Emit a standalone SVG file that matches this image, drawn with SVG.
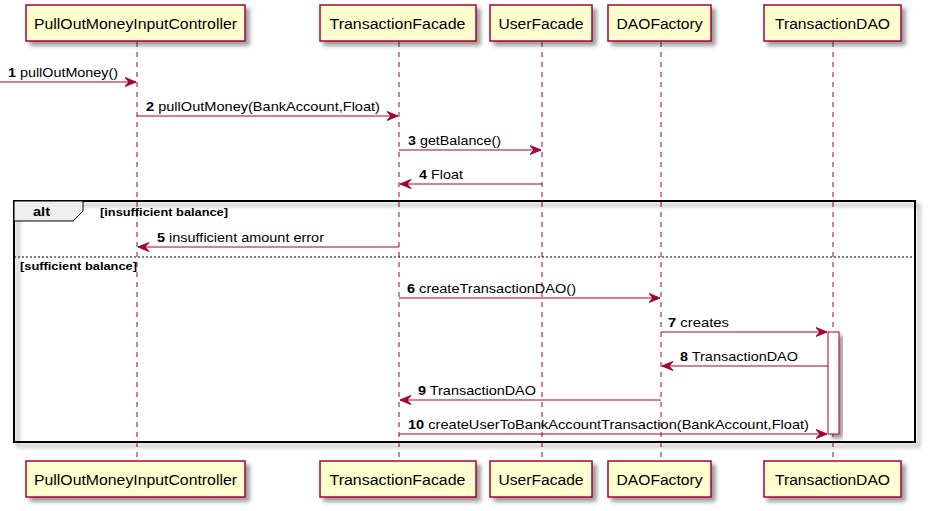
<svg xmlns="http://www.w3.org/2000/svg" width="929" height="511" viewBox="0 0 929 511">
<style>
.box{fill:#FEFECE;stroke:#A80036;stroke-width:1.5;filter:url(#sh)}
.pt{font-family:"Liberation Sans",Arial,sans-serif;font-size:14px;fill:#000;text-anchor:middle}
.life{stroke:#A80036;stroke-width:1;stroke-dasharray:5,5}
.msg{stroke:#A80036;stroke-width:1;fill:none}
.mt{font-family:"Liberation Sans",Arial,sans-serif;font-size:13px;fill:#000}
.n{font-weight:bold}
.head{fill:#A80036;stroke:#A80036;stroke-width:1}
.fr{font-family:"Liberation Sans",Arial,sans-serif;font-size:11px;font-weight:bold;fill:#000}
</style>
<defs>
<filter id="sh" x="-20%" y="-20%" width="150%" height="160%">
<feGaussianBlur in="SourceAlpha" stdDeviation="2"/>
<feOffset dx="4" dy="4" result="b"/>
<feComponentTransfer><feFuncA type="linear" slope="0.4"/></feComponentTransfer>
<feMerge><feMergeNode/><feMergeNode in="SourceGraphic"/></feMerge>
</filter>
<marker id="ar" markerWidth="14" markerHeight="12" refX="11.5" refY="5" orient="auto" markerUnits="userSpaceOnUse">
<polygon points="0.5,0.5 11.5,5 0.5,9.5 4.5,5" class="head"/>
</marker>
</defs>

<g id="lifelines">
<line class="life" x1="137" y1="42" x2="137" y2="461"/>
<line class="life" x1="399" y1="42" x2="399" y2="461"/>
<line class="life" x1="542" y1="42" x2="542" y2="461"/>
<line class="life" x1="661" y1="42" x2="661" y2="461"/>
<line class="life" x1="833" y1="42" x2="833" y2="461"/>
</g>

<g id="frame-alt">
<rect x="14" y="201" width="901" height="241" fill="none" stroke="#000" stroke-width="2" filter="url(#sh)"/>
<polygon points="14,201 83,201 83,211 73,221 14,221" fill="#EEEEEE" stroke="#000" stroke-width="1"/>
<text x="33" y="216" class="mt n" textLength="17" lengthAdjust="spacingAndGlyphs">alt</text>
<text x="100" y="216" class="fr" textLength="128" lengthAdjust="spacingAndGlyphs">[insufficient balance]</text>
<line x1="14" y1="257" x2="915" y2="257" stroke="#000" stroke-width="1" stroke-dasharray="2,2"/>
<text x="20" y="270" class="fr" textLength="117" lengthAdjust="spacingAndGlyphs">[sufficient balance]</text>
</g>

<g id="p-controller">
<rect class="box" x="26" y="5" width="219" height="36"/>
<text class="pt" x="135.5" y="29" textLength="203" lengthAdjust="spacingAndGlyphs">PullOutMoneyInputController</text>
<rect class="box" x="26" y="461" width="219" height="36"/>
<text class="pt" x="135.5" y="485" textLength="203" lengthAdjust="spacingAndGlyphs">PullOutMoneyInputController</text>
</g>
<g id="p-transactionfacade">
<rect class="box" x="320" y="5" width="156" height="36"/>
<text class="pt" x="397.5" y="29" textLength="136" lengthAdjust="spacingAndGlyphs">TransactionFacade</text>
<rect class="box" x="320" y="461" width="156" height="36"/>
<text class="pt" x="397.5" y="485" textLength="136" lengthAdjust="spacingAndGlyphs">TransactionFacade</text>
</g>
<g id="p-userfacade">
<rect class="box" x="490" y="5" width="102" height="36"/>
<text class="pt" x="541" y="29" textLength="85" lengthAdjust="spacingAndGlyphs">UserFacade</text>
<rect class="box" x="490" y="461" width="102" height="36"/>
<text class="pt" x="541" y="485" textLength="85" lengthAdjust="spacingAndGlyphs">UserFacade</text>
</g>
<g id="p-daofactory">
<rect class="box" x="608" y="5" width="103" height="36"/>
<text class="pt" x="659.5" y="29" textLength="86" lengthAdjust="spacingAndGlyphs">DAOFactory</text>
<rect class="box" x="608" y="461" width="103" height="36"/>
<text class="pt" x="659.5" y="485" textLength="86" lengthAdjust="spacingAndGlyphs">DAOFactory</text>
</g>
<g id="p-transactiondao">
<rect class="box" x="764" y="5" width="137" height="36"/>
<text class="pt" x="832.5" y="29" textLength="115" lengthAdjust="spacingAndGlyphs">TransactionDAO</text>
<rect class="box" x="764" y="461" width="137" height="36"/>
<text class="pt" x="832.5" y="485" textLength="115" lengthAdjust="spacingAndGlyphs">TransactionDAO</text>
</g>

<g id="activation">
<rect x="828" y="332" width="11" height="102" fill="#FFFFFF" stroke="#A80036" stroke-width="1" filter="url(#sh)"/>
</g>

<g id="connectors">
<line class="msg" x1="0" y1="82" x2="136" y2="82" marker-end="url(#ar)"/>
<line class="msg" x1="137" y1="116" x2="398" y2="116" marker-end="url(#ar)"/>
<line class="msg" x1="399" y1="150" x2="541" y2="150" marker-end="url(#ar)"/>
<line class="msg" x1="542" y1="184" x2="400" y2="184" marker-end="url(#ar)"/>
<line class="msg" x1="399" y1="247" x2="138" y2="247" marker-end="url(#ar)"/>
<line class="msg" x1="399" y1="298" x2="660" y2="298" marker-end="url(#ar)"/>
<line class="msg" x1="661" y1="332" x2="827" y2="332" marker-end="url(#ar)"/>
<line class="msg" x1="828" y1="366" x2="662" y2="366" marker-end="url(#ar)"/>
<line class="msg" x1="661" y1="400" x2="400" y2="400" marker-end="url(#ar)"/>
<line class="msg" x1="399" y1="434" x2="827" y2="434" marker-end="url(#ar)"/>
</g>

<g id="labels">
<text class="mt" x="8" y="77" textLength="110" lengthAdjust="spacingAndGlyphs"><tspan class="n">1</tspan> pullOutMoney()</text>
<text class="mt" x="146" y="111" textLength="234" lengthAdjust="spacingAndGlyphs"><tspan class="n">2</tspan> pullOutMoney(BankAccount,Float)</text>
<text class="mt" x="408" y="145" textLength="93" lengthAdjust="spacingAndGlyphs"><tspan class="n">3</tspan> getBalance()</text>
<text class="mt" x="419" y="179" textLength="44" lengthAdjust="spacingAndGlyphs"><tspan class="n">4</tspan> Float</text>
<text class="mt" x="157" y="242" textLength="167" lengthAdjust="spacingAndGlyphs"><tspan class="n">5</tspan> insufficient amount error</text>
<text class="mt" x="407" y="293" textLength="169" lengthAdjust="spacingAndGlyphs"><tspan class="n">6</tspan> createTransactionDAO()</text>
<text class="mt" x="668" y="327" textLength="61" lengthAdjust="spacingAndGlyphs"><tspan class="n">7</tspan> creates</text>
<text class="mt" x="680" y="361" textLength="118" lengthAdjust="spacingAndGlyphs"><tspan class="n">8</tspan> TransactionDAO</text>
<text class="mt" x="418" y="395" textLength="118" lengthAdjust="spacingAndGlyphs"><tspan class="n">9</tspan> TransactionDAO</text>
<text class="mt" x="408" y="429" textLength="401" lengthAdjust="spacingAndGlyphs"><tspan class="n">10</tspan> createUserToBankAccountTransaction(BankAccount,Float)</text>
</g>
</svg>
